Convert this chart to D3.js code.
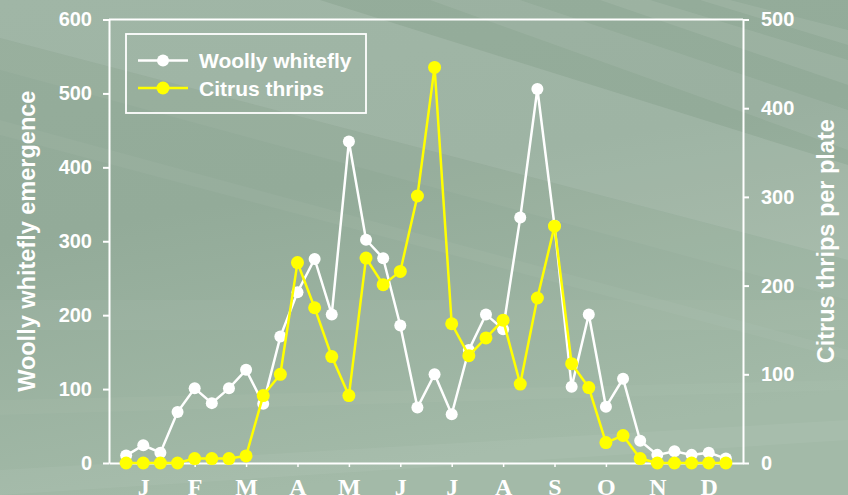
<!DOCTYPE html>
<html>
<head>
<meta charset="utf-8">
<script src="https://cdn.jsdelivr.net/npm/d3@7"></script>
<style>
  html, body { margin: 0; padding: 0; background: #97af9d; }
  svg { display: block; }
</style>
</head>
<body>
<svg id="chart" width="848" height="495"></svg>
<script>
// sampling points, roughly three per month
const monthLabels = ['J', 'F', 'M', 'A', 'M', 'J', 'J', 'A', 'S', 'O', 'N', 'D'];
const whitefly = [10, 24, 14, 69, 101, 81, 101, 126, 80, 171, 231, 276, 201, 435, 302, 277, 186, 75,
  120, 66, 153, 201, 181, 332, 506, 321, 103, 201, 76, 114, 30, 11, 16, 11, 14, 6];
const thrips = [0, 0, 0, 0, 5, 5, 5, 8, 76, 100, 226, 175, 120, 76, 231, 201, 216, 301,
  446, 157, 121, 141, 161, 89, 186, 267, 112, 85, 23, 31, 5, 0, 0, 0, 0, 0];
const leftTicks = [0, 100, 200, 300, 400, 500, 600];
const rightTicks = [0, 100, 200, 300, 400, 500];

const W = 848, H = 495;
const margin = {left: 109, right: 105, top: 19.5, bottom: 32};
const svg = d3.select('#chart');

/**
 * background: soft green with light diagonal streaks
 */
function drawBackground(svg) {
  const defs = svg.append('defs');
  const grad = defs.append('linearGradient')
    .attr('id', 'bg')
    .attr('x1', 0).attr('y1', 0).attr('x2', 0.3).attr('y2', 1);
  grad.append('stop').attr('offset', 0).attr('stop-color', '#95ad9b');
  grad.append('stop').attr('offset', 0.45).attr('stop-color', '#93ab99');
  grad.append('stop').attr('offset', 1).attr('stop-color', '#a3baa8');
  svg.append('rect').attr('width', W).attr('height', H).attr('fill', 'url(#bg)');

  // streaks, [points, opacity]
  const streaks = [
    [[[0, 0], [320, 0], [848, 165], [848, 260], [0, 38]], 0.11],
    [[[0, 38], [848, 260], [848, 300], [0, 70]], 0.04],
    [[[430, 0], [520, 0], [848, 110], [848, 150]], 0.07],
    [[[600, 0], [650, 0], [848, 60], [848, 85]], 0.08],
    [[[700, 0], [730, 0], [848, 30], [848, 45]], 0.08],
    [[[0, 120], [0, 135], [848, 360], [848, 350]], 0.04],
    [[[0, 300], [0, 330], [848, 330], [848, 300]], 0.03],
    [[[0, 470], [0, 495], [848, 440], [848, 420]], 0.05],
    [[[0, 400], [0, 415], [848, 390], [848, 380]], 0.03]
  ];
  svg.append('g').selectAll('polygon').data(streaks).join('polygon')
    .attr('points', d => d[0].map(p => p.join(',')).join(' '))
    .attr('fill', '#ffffff')
    .attr('fill-opacity', d => d[1]);
}

drawBackground(svg);

const x = d3.scaleLinear().domain([-1, 36]).range([margin.left, W - margin.right]);
const yLeft = d3.scaleLinear().domain([0, 600]).range([H - margin.bottom, margin.top]);
const yRight = d3.scaleLinear().domain([0, 500]).range([H - margin.bottom, margin.top]);

const numFont = '"Liberation Sans", Arial, sans-serif';

// left axis
const gLeft = svg.append('g')
  .attr('transform', `translate(${margin.left},0)`)
  .call(d3.axisLeft(yLeft).tickValues(leftTicks).tickSize(6).tickSizeOuter(0).tickPadding(11));
// right axis
const gRight = svg.append('g')
  .attr('transform', `translate(${W - margin.right},0)`)
  .call(d3.axisRight(yRight).tickValues(rightTicks).tickSize(6).tickSizeOuter(0).tickPadding(12));

[gLeft, gRight].forEach(g => {
  g.select('.domain').attr('stroke', '#fff').attr('stroke-width', 2);
  g.selectAll('.tick line').attr('stroke', '#fff').attr('stroke-width', 2);
  g.selectAll('.tick text')
    .attr('fill', '#fff')
    .style('font-family', numFont)
    .style('font-weight', 'bold')
    .style('font-size', '20px');
});

// top frame line
svg.append('line')
  .attr('x1', margin.left).attr('x2', W - margin.right)
  .attr('y1', margin.top).attr('y2', margin.top)
  .attr('stroke', '#fff').attr('stroke-width', 2);

// bottom axis: month boundary ticks
const tickIdx = d3.range(4, 29, 3);
const gBottom = svg.append('g')
  .attr('transform', `translate(0,${H - margin.bottom})`)
  .call(d3.axisBottom(x).tickValues(tickIdx).tickSize(4).tickSizeOuter(0).tickFormat(''));
gBottom.select('.domain').attr('stroke', '#fff').attr('stroke-width', 2);
gBottom.selectAll('.tick line').attr('stroke', '#fff').attr('stroke-width', 1.5);

// month labels (partly clipped by the bottom edge, as in the original)
const labelIdx = monthLabels.map((m, i) => 1 + i * 3);
const gMonths = svg.append('g')
  .attr('transform', `translate(0,${H - margin.bottom})`)
  .call(d3.axisBottom(x).tickValues(labelIdx).tickSize(0).tickPadding(14.5)
    .tickFormat((d, i) => monthLabels[i]));
gMonths.select('.domain').remove();
gMonths.selectAll('.tick text')
  .attr('fill', '#fff')
  .style('font-family', '"Liberation Serif", "Times New Roman", serif')
  .style('font-weight', 'bold')
  .style('font-size', '24px');

// axis titles
svg.append('text')
  .attr('transform', `translate(35,${(margin.top + H - margin.bottom) / 2}) rotate(-90)`)
  .attr('text-anchor', 'middle')
  .attr('fill', '#fff')
  .style('font-family', numFont)
  .style('font-weight', 'bold')
  .style('font-size', '23.5px')
  .text('Woolly whitefly emergence');

svg.append('text')
  .attr('transform', `translate(834,${(margin.top + H - margin.bottom) / 2}) rotate(-90)`)
  .attr('text-anchor', 'middle')
  .attr('fill', '#fff')
  .style('font-family', numFont)
  .style('font-weight', 'bold')
  .style('font-size', '23.5px')
  .text('Citrus thrips per plate');

// series
function drawSeries(values, yScale, color, r, width) {
  const g = svg.append('g');
  g.append('path')
    .datum(values)
    .attr('fill', 'none')
    .attr('stroke', color)
    .attr('stroke-width', width)
    .attr('d', d3.line().x((d, i) => x(i)).y(d => yScale(d)));
  g.selectAll('circle').data(values).join('circle')
    .attr('cx', (d, i) => x(i))
    .attr('cy', d => yScale(d))
    .attr('r', r)
    .attr('fill', color);
}

drawSeries(whitefly, yLeft, '#ffffff', 6, 2.5);
drawSeries(thrips, yRight, '#ffff00', 6.5, 2.5);

// legend
const legend = svg.append('g');
legend.append('rect')
  .attr('x', 126).attr('y', 34)
  .attr('width', 240).attr('height', 79)
  .attr('fill', 'none')
  .attr('stroke', '#fff')
  .attr('stroke-width', 1.8);

const legendItems = [
  {label: 'Woolly whitefly', color: '#ffffff', r: 6},
  {label: 'Citrus thrips', color: '#ffff00', r: 6.5}
];
const item = legend.selectAll('.item').data(legendItems).join('g')
  .attr('class', 'item')
  .attr('transform', (d, i) => `translate(0,${60.5 + i * 27.5})`);
item.append('line')
  .attr('x1', 138).attr('x2', 188)
  .attr('stroke', d => d.color).attr('stroke-width', 2.5);
item.append('circle')
  .attr('cx', 163).attr('r', d => d.r)
  .attr('fill', d => d.color);
item.append('text')
  .attr('x', 199).attr('dy', '0.36em')
  .attr('fill', '#fff')
  .style('font-family', numFont)
  .style('font-weight', 'bold')
  .style('font-size', '21px')
  .text(d => d.label);
</script>
</body>
</html>
